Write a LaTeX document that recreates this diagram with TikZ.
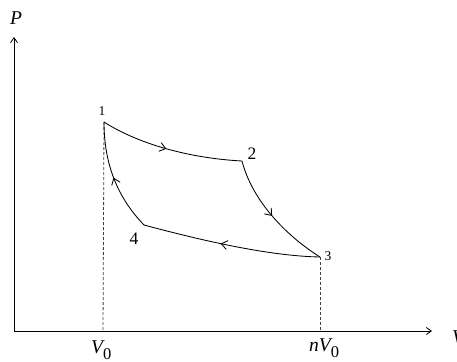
\documentclass[tikz,border=0pt]{standalone}
\usepackage{fontspec}
\setmainfont{Liberation Serif}
\usetikzlibrary{arrows.meta,decorations.markings}
\tikzset{
  axis/.style={line width=0.8pt,-{Straight Barb[length=5pt,width=7pt]}},
  curve/.style={line width=0.85pt},
  guide/.style={line width=0.8pt,dash pattern=on 3pt off 2pt,black!75},
  midarrow/.style={postaction={decorate,decoration={markings,
     mark=at position #1 with {\arrow{Straight Barb[length=6pt,width=9pt]}}}}},
  lbl/.style={inner sep=0pt,font=\fontsize{17.5}{17.5}\selectfont},
  lbls/.style={inner sep=0pt,font=\fontsize{13.5}{13.5}\selectfont},
  axlbl/.style={inner sep=0pt,font=\fontsize{19.5}{19.5}\selectfont\itshape}
}
\begin{document}
\begin{tikzpicture}[x=1pt,y=-1pt]
\useasboundingbox (0,0) rectangle (457,361);
% axes
\coordinate (O) at (14,331);
\coordinate (Ytop) at (14,37);
\coordinate (Xend) at (432,331);
\draw[axis] (O) -- (Ytop);
\draw[axis] (O) -- (Xend);
\node[axlbl] (P) at (16,18) {P};
\node[axlbl,anchor=west] (V) at (452,337) {V};
% state points
\coordinate (p1) at (104,122);
\coordinate (p2) at (242,161);
\coordinate (p3) at (320,257);
\coordinate (p4) at (144,225);
\coordinate (v0) at (103,331);
\coordinate (nv0) at (320,331);
% dashed guides
\draw[guide] (p1) -- (v0);
\draw[guide] (p3) -- (nv0);
% cycle
\draw[curve,midarrow=0.47] (p1) .. controls (135,142) and (185,158) .. (p2);
\draw[curve,midarrow=0.5] (p2) .. controls (252,200) and (285,235) .. (p3);
\draw[curve,midarrow=0.56] (p3) .. controls (268,256) and (200,240) .. (p4);
\draw[curve,midarrow=0.5] (p4) .. controls (115,195) and (104,160) .. (p1);
% labels
\node[lbls] (l1) at (102,111) {1};
\node[lbl] (l2) at (252,154) {2};
\node[lbls] (l3) at (328,256) {3};
\node[lbl] (l4) at (134,239) {4};
\node[axlbl,anchor=base west] (lv0) at (91,353) {V\raisebox{-6pt}{\upshape\fontsize{16.5}{16.5}\selectfont 0}};
\node[axlbl,anchor=base west] (lnv0) at (309,351) {nV\raisebox{-6pt}{\upshape\fontsize{16.5}{16.5}\selectfont 0}};
\end{tikzpicture}
\end{document}
